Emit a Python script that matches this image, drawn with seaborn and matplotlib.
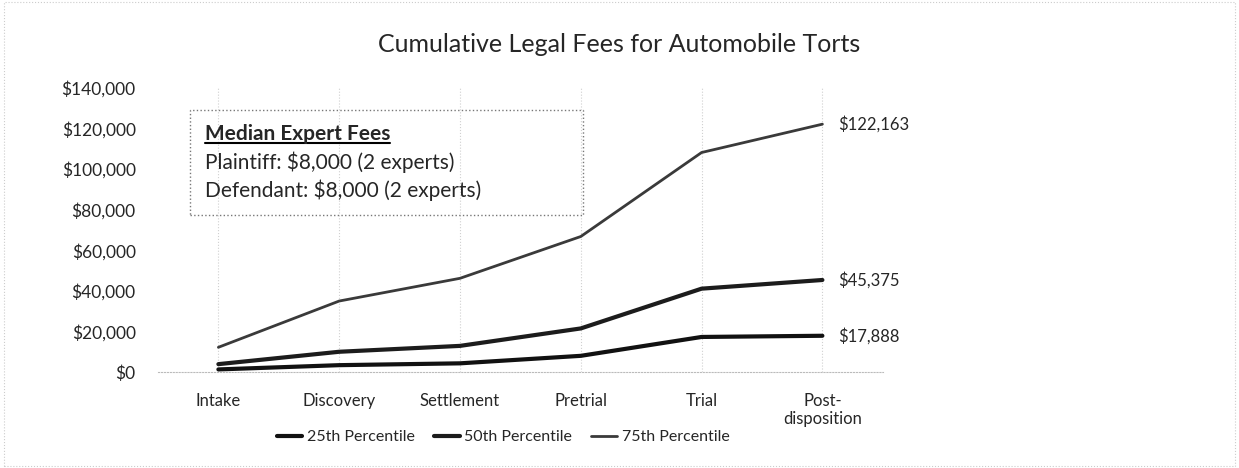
import numpy as np
import pandas as pd
import seaborn as sns
from matplotlib import pyplot as plt
from matplotlib.lines import Line2D
from matplotlib.patches import Rectangle
from matplotlib.ticker import FuncFormatter

stages = ["Intake", "Discovery", "Settlement", "Pretrial", "Trial", "Post-\ndisposition"]
p25 = [1300, 3400, 4300, 8000, 17300, 17888]
p50 = [3900, 10000, 12900, 21500, 41100, 45375]
p75 = [12200, 35000, 46200, 66800, 108200, 122163]
series_names = ["25th Percentile", "50th Percentile", "75th Percentile"]
end_labels = ["$17,888", "$45,375", "$122,163"]

df = pd.DataFrame({
    "stage": stages * 3,
    "fees": p25 + p50 + p75,
    "series": [s for s in series_names for _ in stages],
})

sns.set_style("white")
plt.rcParams["font.family"] = ["Lato", "DejaVu Sans"]

fig = plt.figure(figsize=(12.39, 4.68), dpi=100)
ax = fig.add_axes([0.1275, 0.205, 0.585, 0.607])

colors = {"25th Percentile": "#111111", "50th Percentile": "#1c1c1c", "75th Percentile": "#3a3a3a"}
widths = {"25th Percentile": 3.0, "50th Percentile": 3.0, "75th Percentile": 2.0}
sns.lineplot(data=df, x="stage", y="fees", hue="series", palette=colors, sort=False, ax=ax, legend=False)
for line, name in zip(ax.get_lines(), series_names):
    line.set_linewidth(widths[name])

ax.set_xlim(-0.5, len(stages) - 0.5)
ax.set_ylim(0, 140000)
ax.set_yticks(np.arange(0, 140001, 20000))
ax.yaxis.set_major_formatter(FuncFormatter(lambda v, p: f"${v:,.0f}"))
ax.set_xlabel("")
ax.set_ylabel("")
ax.tick_params(axis="y", length=0, pad=16, labelsize=12.5)
ax.tick_params(axis="x", length=0, pad=15, labelsize=12)
for s in ["top", "right", "left"]:
    ax.spines[s].set_visible(False)
ax.spines["bottom"].set_color("#bbbbbb")
ax.spines["bottom"].set_linestyle(":")
ax.grid(axis="x", color="#d0d0d0", linestyle=":", linewidth=0.8)
ax.grid(axis="y", visible=False)

for vals, lab in zip([p25, p50, p75], end_labels):
    ax.annotate(lab, xy=(len(stages) - 1, vals[-1]), xytext=(11, 0), textcoords="offset points",
                va="center", ha="left", fontsize=12)

fig.text(0.5, 0.905, "Cumulative Legal Fees for Automobile Torts", ha="center", va="center", fontsize=18)

# text box with expert fees
box = Rectangle((190 / 1239, 1 - 215 / 468), (583 - 190) / 1239, (215 - 110) / 468,
                transform=fig.transFigure, fill=False, edgecolor="#777777", linestyle=":", linewidth=1)
fig.patches.append(box)
t = fig.text(205 / 1239, 1 - 134 / 468, "Median Expert Fees", fontsize=15, fontweight="bold", va="center")
fig.text(205 / 1239, 1 - 162 / 468, "Plaintiff: $8,000 (2 experts)", fontsize=15, va="center")
fig.text(205 / 1239, 1 - 190 / 468, "Defendant: $8,000 (2 experts)", fontsize=15, va="center")
fig.canvas.draw()
bb = t.get_window_extent().transformed(fig.transFigure.inverted())
fig.add_artist(Line2D([bb.x0, bb.x1], [bb.y0 + 0.002, bb.y0 + 0.002], transform=fig.transFigure,
                      color="black", linewidth=1.5))

handles = [Line2D([], [], color=colors[n], linewidth=widths[n]) for n in series_names]
fig.legend(handles, series_names, loc="center", bbox_to_anchor=(0.406, 0.066), ncol=3, frameon=False,
           fontsize=11.5, handlelength=1.6, handletextpad=0.3, columnspacing=1.2)

fig.patches.append(Rectangle((0.003, 0.005), 0.994, 0.99, transform=fig.transFigure, fill=False,
                             edgecolor="#cccccc", linestyle=":", linewidth=0.8))

plt.savefig("out.png", dpi=100)
